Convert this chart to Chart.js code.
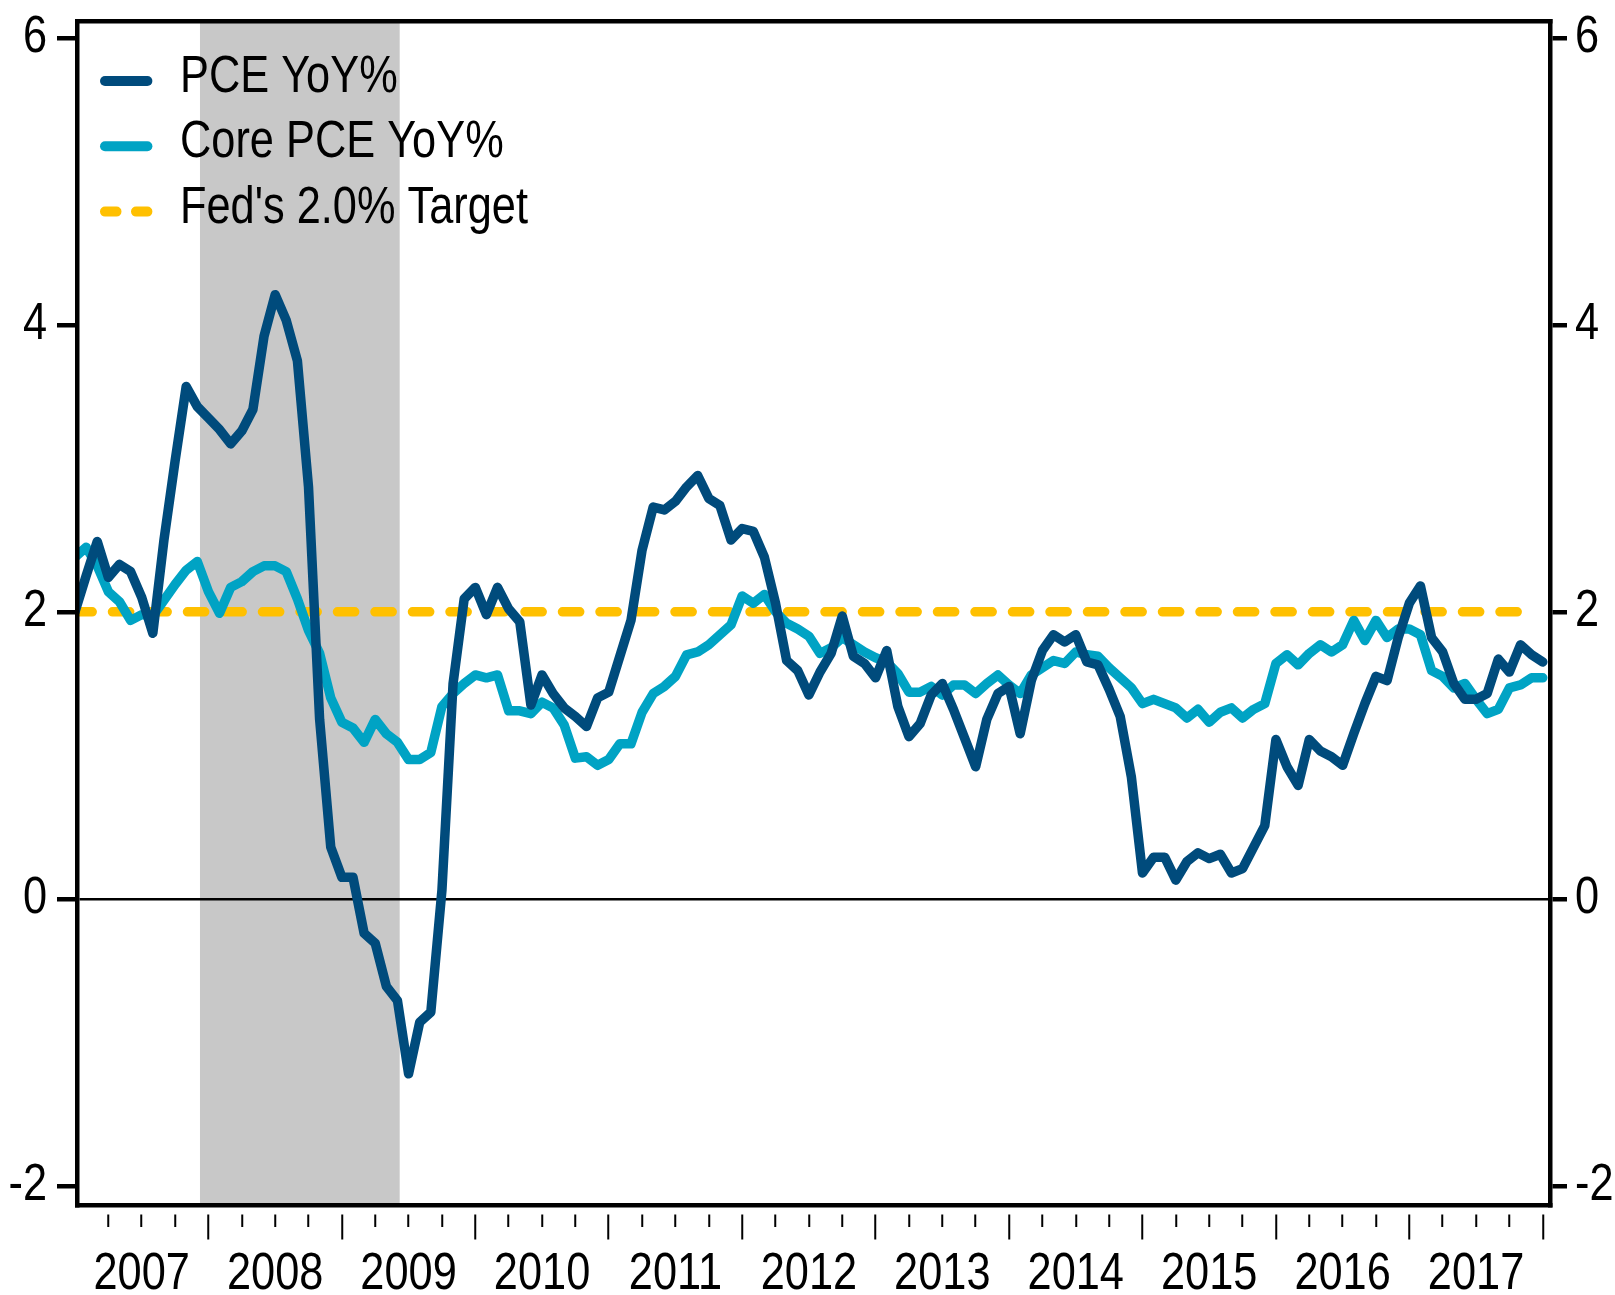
<!DOCTYPE html>
<html>
<head>
<meta charset="utf-8">
<script src="https://cdn.jsdelivr.net/npm/chart.js@4.4.1/dist/chart.umd.min.js"></script>
<style>
  html, body { margin: 0; padding: 0; background: #ffffff; }
  #wrap { position: relative; width: 1615px; height: 1295px; }
  canvas { display: block; }
</style>
</head>
<body>
<div id="wrap"><canvas id="chart" width="1615" height="1295"></canvas></div>
<script>
// ---------------- DATA ----------------
// Monthly year-over-year %, Dec 2006 .. Dec 2017
const pceYoY = [
  2.00, 2.25, 2.49, 2.24, 2.33, 2.28, 2.10, 1.85, 2.50, 3.05,
  3.57, 3.43, 3.35, 3.27, 3.17, 3.26, 3.41, 3.92, 4.21, 4.03,
  3.75, 2.87, 1.25, 0.36, 0.15, 0.15, -0.24, -0.31, -0.61, -0.71,
  -1.22, -0.86, -0.79, 0.06, 1.50, 2.09, 2.17, 1.98, 2.17, 2.02,
  1.93, 1.35, 1.56, 1.43, 1.33, 1.27, 1.20, 1.40, 1.44, 1.69,
  1.94, 2.43, 2.73, 2.71, 2.77, 2.87, 2.95, 2.79, 2.74, 2.50,
  2.58, 2.56, 2.38, 2.06, 1.66, 1.59, 1.42, 1.58, 1.71, 1.97,
  1.69, 1.64, 1.54, 1.73, 1.34, 1.13, 1.22, 1.42, 1.50, 1.32,
  1.12, 0.92, 1.25, 1.43, 1.48, 1.15, 1.52, 1.73, 1.84, 1.79,
  1.84, 1.65, 1.63, 1.46, 1.27, 0.85, 0.18, 0.29, 0.29, 0.13,
  0.26, 0.32, 0.28, 0.31, 0.18, 0.21, 0.36, 0.51, 1.11, 0.92,
  0.79, 1.11, 1.03, 0.99, 0.93, 1.15, 1.36, 1.55, 1.52, 1.82,
  2.06, 2.18, 1.82, 1.72, 1.50, 1.39, 1.39, 1.43, 1.67, 1.58,
  1.77, 1.70, 1.65
];
const corePceYoY = [
  2.38, 2.45, 2.32, 2.14, 2.07, 1.94, 1.98, 1.97, 2.08, 2.19,
  2.29, 2.35, 2.14, 1.99, 2.17, 2.21, 2.28, 2.32, 2.32, 2.28,
  2.09, 1.87, 1.71, 1.40, 1.23, 1.19, 1.09, 1.25, 1.15, 1.09,
  0.97, 0.97, 1.02, 1.34, 1.43, 1.50, 1.56, 1.54, 1.56, 1.31,
  1.31, 1.29, 1.37, 1.33, 1.21, 0.98, 0.99, 0.93, 0.97, 1.08,
  1.08, 1.30, 1.43, 1.48, 1.55, 1.70, 1.72, 1.77, 1.84, 1.91,
  2.11, 2.06, 2.12, 2.00, 1.92, 1.88, 1.83, 1.71, 1.75, 1.82,
  1.77, 1.72, 1.68, 1.65, 1.57, 1.44, 1.44, 1.48, 1.42, 1.49,
  1.49, 1.43, 1.50, 1.56, 1.49, 1.43, 1.56, 1.61, 1.66, 1.64,
  1.72, 1.70, 1.69, 1.61, 1.54, 1.47, 1.36, 1.39, 1.36, 1.33,
  1.26, 1.32, 1.23, 1.30, 1.33, 1.26, 1.32, 1.36, 1.64, 1.70,
  1.63, 1.71, 1.77, 1.72, 1.77, 1.94, 1.80, 1.94, 1.82, 1.88,
  1.88, 1.84, 1.59, 1.55, 1.47, 1.50, 1.39, 1.29, 1.32, 1.47,
  1.49, 1.54, 1.54
];
const fedTarget = 2.0;
const firstYear = 2006, firstMonth = 12;          // first data month
const months = pceYoY.map((_, i) => {
  const m = firstMonth - 1 + i;
  return (firstYear + Math.floor(m / 12)) + '-' + String(m % 12 + 1).padStart(2, '0');
});
const yearLabels = ['2007', '2008', '2009', '2010', '2011', '2012', '2013', '2014', '2015', '2016', '2017'];
const yTickValues = [-2, 0, 2, 4, 6];
const recessionMonths = [11.24, 29.2];            // Dec 2007 - Jun 2009, in month index units
const seriesLabels = ['PCE YoY%', 'Core PCE YoY%', "Fed's 2.0% Target"];

// ---------------- STYLE ----------------
const FONT = "'Liberation Sans', Arial, sans-serif";
const FONT_SIZE = 51;
const TEXT_X_SCALE = 0.85;                         // narrow (condensed) lettering
Chart.defaults.font.family = FONT;
Chart.defaults.font.size = FONT_SIZE;
Chart.defaults.color = '#000000';

const canvas = document.getElementById('chart');
const ctx2d = canvas.getContext('2d');
const rawFillText = ctx2d.fillText;
ctx2d.fillText = function (text, x, y, maxWidth) {
  this.save();
  this.translate(x, y);
  this.scale(TEXT_X_SCALE, 1);
  if (maxWidth === undefined || maxWidth === null || !isFinite(maxWidth)) {
    rawFillText.call(this, text, 0, 0);
  } else {
    rawFillText.call(this, text, 0, 0, maxWidth / TEXT_X_SCALE);
  }
  this.restore();
};

const X_MIN = 0.18, X_MAX = 132.65, Y_MIN = -2.134, Y_MAX = 6.117;
const toPoints = arr => arr.map((v, i) => ({ x: i, y: v }));

const recessionPlugin = {
  id: 'recessionShade',
  beforeDraw(chart) {
    const { ctx, chartArea, scales } = chart;
    const x0 = scales.x.getPixelForValue(recessionMonths[0]);
    const x1 = scales.x.getPixelForValue(recessionMonths[1]);
    ctx.save();
    ctx.fillStyle = '#c8c8c8';
    ctx.fillRect(x0, chartArea.top, x1 - x0, chartArea.bottom - chartArea.top);
    ctx.restore();
  }
};

const legendPlugin = {
  id: 'insideLegend',
  afterDatasetsDraw(chart) {
    const { ctx, chartArea } = chart;
    chart.data.datasets.forEach((ds, i) => {
      const y = chartArea.top + 60 + i * 65.3;
      ctx.save();
      ctx.strokeStyle = ds.borderColor;
      ctx.lineWidth = 10;
      ctx.lineCap = 'round';
      ctx.setLineDash(ds.borderDash ? [11.5, 19.5] : []);
      ctx.beginPath();
      ctx.moveTo(chartArea.left + 28, y);
      ctx.lineTo(chartArea.left + 70.4, y);
      ctx.stroke();
      ctx.setLineDash([]);
      ctx.fillStyle = '#000000';
      ctx.font = FONT_SIZE + 'px ' + FONT;
      ctx.textBaseline = 'middle';
      ctx.textAlign = 'left';
      ctx.fillText(ds.label, chartArea.left + 103, y - 3);
      ctx.restore();
    });
  }
};

const lineCommon = {
  borderWidth: 9.5,
  pointRadius: 0,
  pointHoverRadius: 0,
  borderCapStyle: 'round',
  borderJoinStyle: 'round',
  tension: 0,
  fill: false,
  clip: 0
};

new Chart(canvas, {
  type: 'line',
  data: {
    labels: months,
    datasets: [
      Object.assign({ label: seriesLabels[0], data: toPoints(pceYoY), borderColor: '#004b7c' }, lineCommon),
      Object.assign({ label: seriesLabels[1], data: toPoints(corePceYoY), borderColor: '#00a3c4' }, lineCommon),
      Object.assign({
        label: seriesLabels[2],
        data: [{ x: 0, y: fedTarget }, { x: months.length - 2, y: fedTarget }],
        borderColor: '#ffc000',
        borderDash: [17.2, 20.3]
      }, lineCommon)
    ]
  },
  options: {
    responsive: false,
    animation: false,
    devicePixelRatio: 1,
    events: [],
    layout: { padding: { top: 21, left: 0, right: 0, bottom: 0 } },
    plugins: { legend: { display: false }, tooltip: { enabled: false } },
    scales: {
      x: {
        type: 'linear',
        position: 'bottom',
        min: X_MIN, max: X_MAX,
        afterBuildTicks: s => {
          const t = [];
          for (let v = 3; v <= months.length - 1; v += 3) t.push({ value: v });
          s.ticks = t;
        },
        afterFit: s => { s.height = 90; },
        ticks: {
          autoSkip: false, maxRotation: 0, minRotation: 0, padding: 3,
          callback: v => (v % 12 === 6 ? yearLabels[(v - 6) / 12] : '')
        },
        grid: {
          display: true, drawOnChartArea: false, drawTicks: true,
          tickLength: 36, tickWidth: 2, tickColor: '#000000', lineWidth: 4.5,
          tickBorderDash: c => (c.tick && c.tick.value % 12 === 0 ? [0, 7, 25, 100] : [0, 7, 12.5, 100])
        },
        border: { display: true, width: 4.5, color: '#000000', z: 1 }
      },
      xTop: {
        type: 'linear',
        position: 'top',
        min: X_MIN, max: X_MAX,
        afterFit: s => { s.height = 0; },
        ticks: { display: false },
        grid: { display: false, drawTicks: false, lineWidth: 4.5 },
        border: { display: true, width: 4.5, color: '#000000', z: 1 }
      },
      y: {
        type: 'linear',
        position: 'left',
        min: Y_MIN, max: Y_MAX,
        afterBuildTicks: s => { s.ticks = yTickValues.map(v => ({ value: v })); },
        afterFit: s => { s.width = 77; },
        ticks: { padding: 10, font: { size: FONT_SIZE, lineHeight: 0.4 }, callback: v => String(v) },
        grid: {
          display: true, drawOnChartArea: true, drawTicks: true,
          tickLength: 20, tickWidth: 4.5, tickColor: '#000000',
          color: c => (c.tick && c.tick.value === 0 ? '#000000' : 'rgba(0,0,0,0)'),
          lineWidth: c => (c.tick && c.tick.value === 0 ? 2.5 : 4.5)
        },
        border: { display: true, width: 4.5, color: '#000000', z: 1 }
      },
      y2: {
        type: 'linear',
        position: 'right',
        min: Y_MIN, max: Y_MAX,
        afterBuildTicks: s => { s.ticks = yTickValues.map(v => ({ value: v })); },
        afterFit: s => { s.width = 65; },
        ticks: { padding: 8, font: { size: FONT_SIZE, lineHeight: 0.4 }, callback: v => String(v) },
        grid: {
          display: true, drawOnChartArea: false, drawTicks: true,
          tickLength: 17, tickWidth: 4.5, tickColor: '#000000', lineWidth: 4.5
        },
        border: { display: true, width: 4.5, color: '#000000', z: 1 }
      }
    }
  },
  plugins: [recessionPlugin, legendPlugin]
});
</script>
</body>
</html>
